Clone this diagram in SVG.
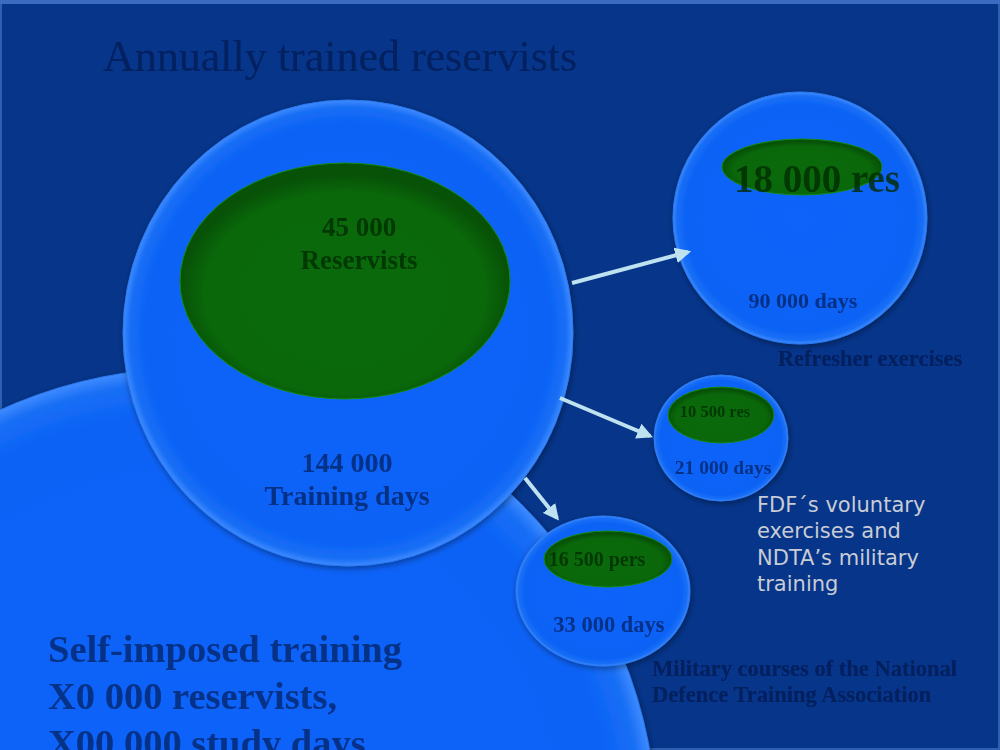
<svg xmlns="http://www.w3.org/2000/svg" width="1000" height="750" viewBox="0 0 1000 750">
<defs>
<radialGradient id="blueG" cx="50%" cy="50%" r="50%">
<stop offset="0%" stop-color="#0B64FA"/>
<stop offset="90%" stop-color="#0A62F6"/>
<stop offset="97%" stop-color="#1A6FF5"/>
<stop offset="100%" stop-color="#3F8BFF"/>
</radialGradient>
<radialGradient id="greenG" cx="50%" cy="55%" r="50%">
<stop offset="0%" stop-color="#0A6A0B"/>
<stop offset="85%" stop-color="#0A680A"/>
<stop offset="100%" stop-color="#075207"/>
</radialGradient>
<filter id="shadow" x="-10%" y="-10%" width="120%" height="120%">
<feGaussianBlur in="SourceAlpha" stdDeviation="3"/>
<feOffset dx="1" dy="2" result="b"/>
<feComponentTransfer><feFuncA type="linear" slope="0.4"/></feComponentTransfer>
<feMerge><feMergeNode/><feMergeNode in="SourceGraphic"/></feMerge>
</filter>
<filter id="soft" x="-5%" y="-20%" width="110%" height="140%">
<feGaussianBlur stdDeviation="0.7"/>
</filter>
<marker id="arr" viewBox="0 0 10 10" refX="8" refY="5" markerWidth="4" markerHeight="4" orient="auto">
<path d="M0,0 L10,5 L0,10 z" fill="#BEE2F0"/>
</marker>
<style>
.blue{fill:url(#blueG);stroke:#2A78F0;stroke-width:1;filter:url(#shadow)}
.green{fill:url(#greenG);stroke:#138A13;stroke-width:1}
.dark{font-family:"Liberation Serif",serif;font-weight:bold;fill:#001040;fill-opacity:0.62;filter:url(#soft)}
.gtxt{font-family:"Liberation Serif",serif;font-weight:bold;fill:#022A05;fill-opacity:0.8;filter:url(#soft)}
.conn{stroke:#BEE2F0;stroke-width:4;fill:none;marker-end:url(#arr)}
</style>
</defs>
<rect x="0" y="0" width="1000" height="750" fill="#06358A"/>
<rect x="1" y="1" width="998" height="748" fill="none" stroke="#2E5FB0" stroke-width="2"/>
<rect x="0" y="0" width="1000" height="4" fill="#3A6BC0"/>
<text x="103" y="71" font-family="Liberation Serif, serif" font-size="44" fill="#001040" fill-opacity="0.6" filter="url(#soft)">Annually trained reservists</text>

<g id="self-imposed">
<circle cx="193" cy="832" r="464" class="blue"/>
<text class="dark" font-size="38.5"><tspan x="48" y="662">Self-imposed training</tspan><tspan x="48" y="709">X0 000 reservists,</tspan><tspan x="48" y="756">X00 000 study days</tspan></text>
</g>

<g id="main">
<ellipse cx="348" cy="333" rx="225" ry="233" class="blue"/>
<ellipse cx="345" cy="281" rx="165" ry="118" class="green"/>
<text class="gtxt" font-size="27" text-anchor="middle"><tspan x="359" y="236">45 000</tspan><tspan x="359" y="269">Reservists</tspan></text>
<text class="dark" font-size="28" text-anchor="middle"><tspan x="347" y="472">144 000</tspan><tspan x="347" y="505">Training days</tspan></text>
</g>

<g id="refresher">
<ellipse cx="800" cy="218" rx="127" ry="126" class="blue"/>
<ellipse cx="802" cy="167" rx="80" ry="28" class="green"/>
<text x="817" y="192" class="gtxt" font-size="39" text-anchor="middle">18 000 res</text>
<text x="803" y="308" class="dark" font-size="22" text-anchor="middle">90 000 days</text>
<text x="870" y="366" class="dark" font-size="22.5" text-anchor="middle">Refresher exercises</text>
</g>

<g id="voluntary">
<ellipse cx="721" cy="438" rx="67" ry="63" class="blue"/>
<ellipse cx="721" cy="415" rx="53" ry="28" class="green"/>
<text x="715" y="417" class="gtxt" font-size="16.5" text-anchor="middle">10 500 res</text>
<text x="723" y="474" class="dark" font-size="19.5" text-anchor="middle">21 000 days</text>
<text font-family="DejaVu Sans, sans-serif" font-size="21" fill="#C8CCD4"><tspan x="757" y="512">FDF´s voluntary</tspan><tspan x="757" y="538">exercises and</tspan><tspan x="757" y="565">NDTA’s military</tspan><tspan x="757" y="591">training</tspan></text>
</g>

<g id="courses">
<ellipse cx="603" cy="591" rx="87" ry="75" class="blue"/>
<ellipse cx="608" cy="559" rx="64" ry="28" class="green"/>
<text x="597" y="566" class="gtxt" font-size="20" text-anchor="middle">16 500 pers</text>
<text x="609" y="632" class="dark" font-size="22.5" text-anchor="middle">33 000 days</text>
<text class="dark" font-size="22.5"><tspan x="652" y="676">Military courses of the National</tspan><tspan x="652" y="702">Defence Training Association</tspan></text>
</g>

<g id="connectors">
<line x1="572" y1="283" x2="688" y2="252" class="conn"/>
<line x1="560" y1="398" x2="650" y2="436" class="conn"/>
<line x1="525" y1="478" x2="557" y2="518" class="conn"/>
</g>
</svg>
